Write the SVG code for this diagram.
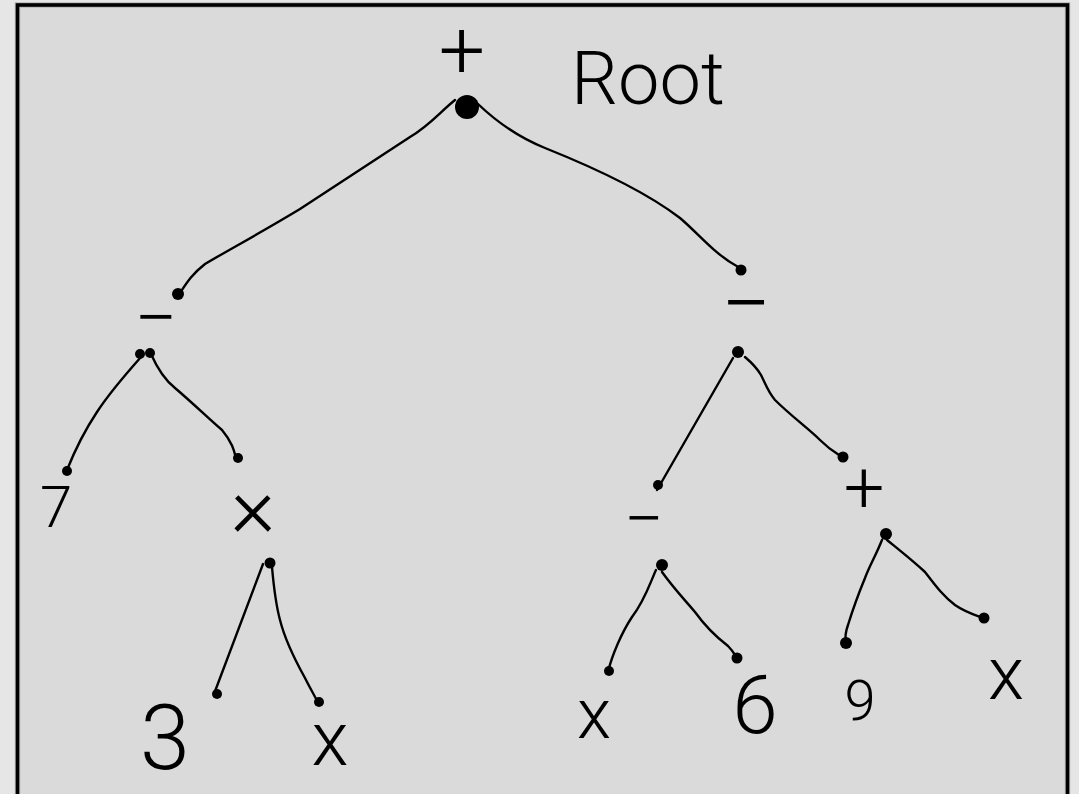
<svg xmlns="http://www.w3.org/2000/svg" width="1079" height="794" viewBox="0 0 1079 794">
  <style>
    .lbl { font-family: "Roboto", "Liberation Sans", "DejaVu Sans", sans-serif; font-weight: 300; fill: #000; text-anchor: middle; }
    .edge { fill: none; stroke: #000; stroke-width: 2.4; stroke-linecap: round; stroke-linejoin: round; }
    .dot { fill: #000; }
  </style>
  <!-- page and frame -->
  <rect x="0" y="0" width="1079" height="794" fill="#e6e6e6"/>
  <rect x="17.5" y="5" width="1050" height="800" fill="#dadada" stroke="#b4b4b4" stroke-width="5.5"/>
  <rect x="17.5" y="5" width="1050" height="800" fill="none" stroke="#000" stroke-width="3.6"/>

  <!-- connectors -->
  <g id="connectors">
    <path class="edge" d="M455,100 C440,112 430,125 410,137 L300,209 C262,232 225,252 205,264 C192,274 186,284 180,293"/>
    <path class="edge" d="M478,104 C500,125 520,138 545,148 C600,170 650,195 680,218 C700,235 715,255 740,268"/>
    <path class="edge" d="M141,357 C125,375 110,392 97,412 C85,430 75,450 67,470"/>
    <path class="edge" d="M151,354 C158,370 165,380 175,388 C195,405 210,420 222,430 C232,442 234,450 236,458"/>
    <path class="edge" d="M263,564 L214,694"/>
    <path class="edge" d="M272,567 C274,590 276,605 280,620 C285,640 295,660 305,678 C311,690 316,698 318,703"/>
    <path class="edge" d="M733,358 L657,490"/>
    <path class="edge" d="M745,357 C752,363 757,368 761,375 C766,385 768,392 775,400 C790,415 810,430 820,440 C830,450 836,453 842,457"/>
    <path class="edge" d="M656,570 C650,583 645,600 632,617 C622,632 612,655 608,672"/>
    <path class="edge" d="M662,572 C675,590 685,600 695,612 C705,626 715,636 728,646 C733,651 735,655 737,658"/>
    <path class="edge" d="M882,540 C876,555 870,565 865,578 C858,595 852,612 848,625 C845,633 845,638 846,643"/>
    <path class="edge" d="M887,540 C898,549 912,560 925,572 C935,585 943,596 955,605 C965,612 975,615 983,618"/>
    <!-- endpoint blots -->
    <circle class="dot" cx="178" cy="294" r="6"/>
    <circle class="dot" cx="741" cy="270" r="5.5"/>
    <circle class="dot" cx="67" cy="471" r="5"/>
    <circle class="dot" cx="238" cy="458" r="5"/>
    <circle class="dot" cx="217" cy="694" r="5"/>
    <circle class="dot" cx="319" cy="702" r="5"/>
    <circle class="dot" cx="658" cy="485" r="5"/>
    <circle class="dot" cx="843" cy="457" r="5.5"/>
    <circle class="dot" cx="609" cy="671" r="5"/>
    <circle class="dot" cx="737" cy="658" r="5.5"/>
    <circle class="dot" cx="846" cy="643" r="6"/>
    <circle class="dot" cx="984" cy="618" r="5.5"/>
  </g>

  <g id="root">
    <text class="lbl" x="462" y="78" font-size="82">+</text>
    <circle class="dot" cx="467" cy="107" r="12"/>
  </g>
  <g id="root-note">
    <text class="lbl" x="648" y="104" font-size="74">Root</text>
  </g>
  <g id="minus-left">
    <text class="lbl" x="156" y="344" font-size="76">−</text>
    <circle class="dot" cx="140" cy="354" r="5"/>
    <circle class="dot" cx="150" cy="353" r="5"/>
  </g>
  <g id="minus-right">
    <text class="lbl" x="746" y="334" font-size="88">−</text>
    <circle class="dot" cx="738" cy="352" r="6"/>
  </g>
  <g id="seven">
    <text class="lbl" x="56" y="527" font-size="58">7</text>
  </g>
  <g id="times">
    <text class="lbl" x="253" y="536" font-size="86">×</text>
    <circle class="dot" cx="270" cy="563" r="5.5"/>
  </g>
  <g id="three">
    <text class="lbl" x="165" y="769" font-size="90">3</text>
  </g>
  <g id="x-a">
    <text class="lbl" x="330" y="765" font-size="76">x</text>
  </g>
  <g id="minus-lower">
    <text class="lbl" x="644" y="543" font-size="70">−</text>
    <circle class="dot" cx="662" cy="565" r="6"/>
  </g>
  <g id="plus-lower">
    <text class="lbl" x="864" y="512" font-size="72">+</text>
    <circle class="dot" cx="886" cy="534" r="6"/>
  </g>
  <g id="x-b">
    <text class="lbl" x="594" y="738" font-size="70">x</text>
  </g>
  <g id="six">
    <text class="lbl" x="755" y="733" font-size="82">6</text>
  </g>
  <g id="nine">
    <text class="lbl" x="860" y="720" font-size="56">9</text>
  </g>
  <g id="x-c">
    <text class="lbl" x="1006" y="699" font-size="74">x</text>
  </g>
</svg>
